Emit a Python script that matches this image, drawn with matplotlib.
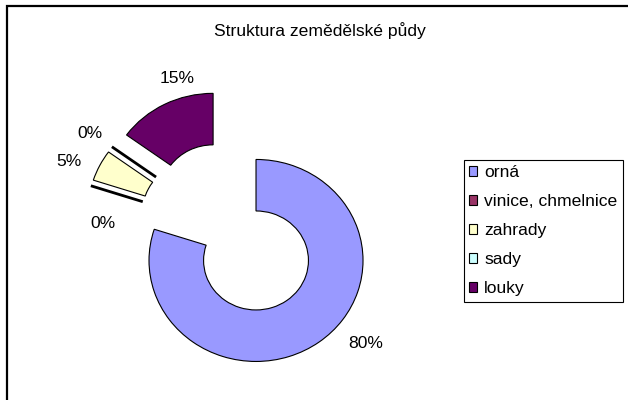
import matplotlib
matplotlib.use("Agg")
import matplotlib.pyplot as plt
from matplotlib.patches import Rectangle

plt.rcParams["font.family"] = ["Liberation Sans", "DejaVu Sans"]

# data
categories = ["orná", "vinice, chmelnice", "zahrady", "sady", "louky"]
shares = [80, 0, 5, 0, 15]
colors = ["#9999FF", "#993366", "#FFFFCC", "#CCFFFF", "#660066"]
title = "Struktura zemědělské půdy"

# label spots (data coords, pie centre = 0,0)
label_pos = [(1.254, -1.129), (-1.204, 0.059), (-1.521, 0.673),
             (-1.325, 0.950), (-0.512, 1.495)]

W, H = 628, 400
fig = plt.figure(figsize=(W / 100, H / 100), dpi=100)
ax = fig.add_axes([0, 0, 1, 1])

wedges, _ = ax.pie(
    shares,
    colors=colors,
    startangle=90,
    counterclock=False,
    explode=[0.385] * len(shares),
    radius=1.0,
    wedgeprops=dict(width=0.51, edgecolor="black", linewidth=0.8),
)
for w, v in zip(wedges, shares):
    if v == 0:
        w.set_linewidth(2.0)

# Excel draws the doughnut a bit wider than tall
cx, cy, rx, ry = 231.8, 229.0, 107.0, 101.0
ax.set_aspect("auto")
ax.set_xlim(-cx / rx, (W - cx) / rx)
ax.set_ylim(-(H - cy) / ry, cy / ry)
ax.axis("off")

for (x, y), v in zip(label_pos, shares):
    ax.text(x, y, f"{v}%", ha="center", va="center", fontsize=12.6)

fig.text(320 / W, 1 - 31 / H, title, ha="center", va="center", fontsize=12.6)

# chart area border (right/bottom edges run off the picture)
fig.patches.append(Rectangle((7 / W, -0.5), 2, 1.5 - 6 / H, transform=fig.transFigure,
                             fill=False, edgecolor="black", linewidth=1.6))

leg = ax.legend(wedges, categories, loc="upper left",
                bbox_to_anchor=(464 / W, 1 - 160 / H), bbox_transform=fig.transFigure,
                frameon=True, fancybox=False, edgecolor="black", framealpha=1,
                fontsize=12.6, handlelength=0.46, handleheight=0.46,
                handletextpad=0.4, labelspacing=0.8, borderpad=0.3, borderaxespad=0)
leg.get_frame().set_linewidth(0.8)
for h in leg.legend_handles:
    h.set_linewidth(0.8)
    h.set_edgecolor("black")

fig.savefig("out.png", dpi=100)
